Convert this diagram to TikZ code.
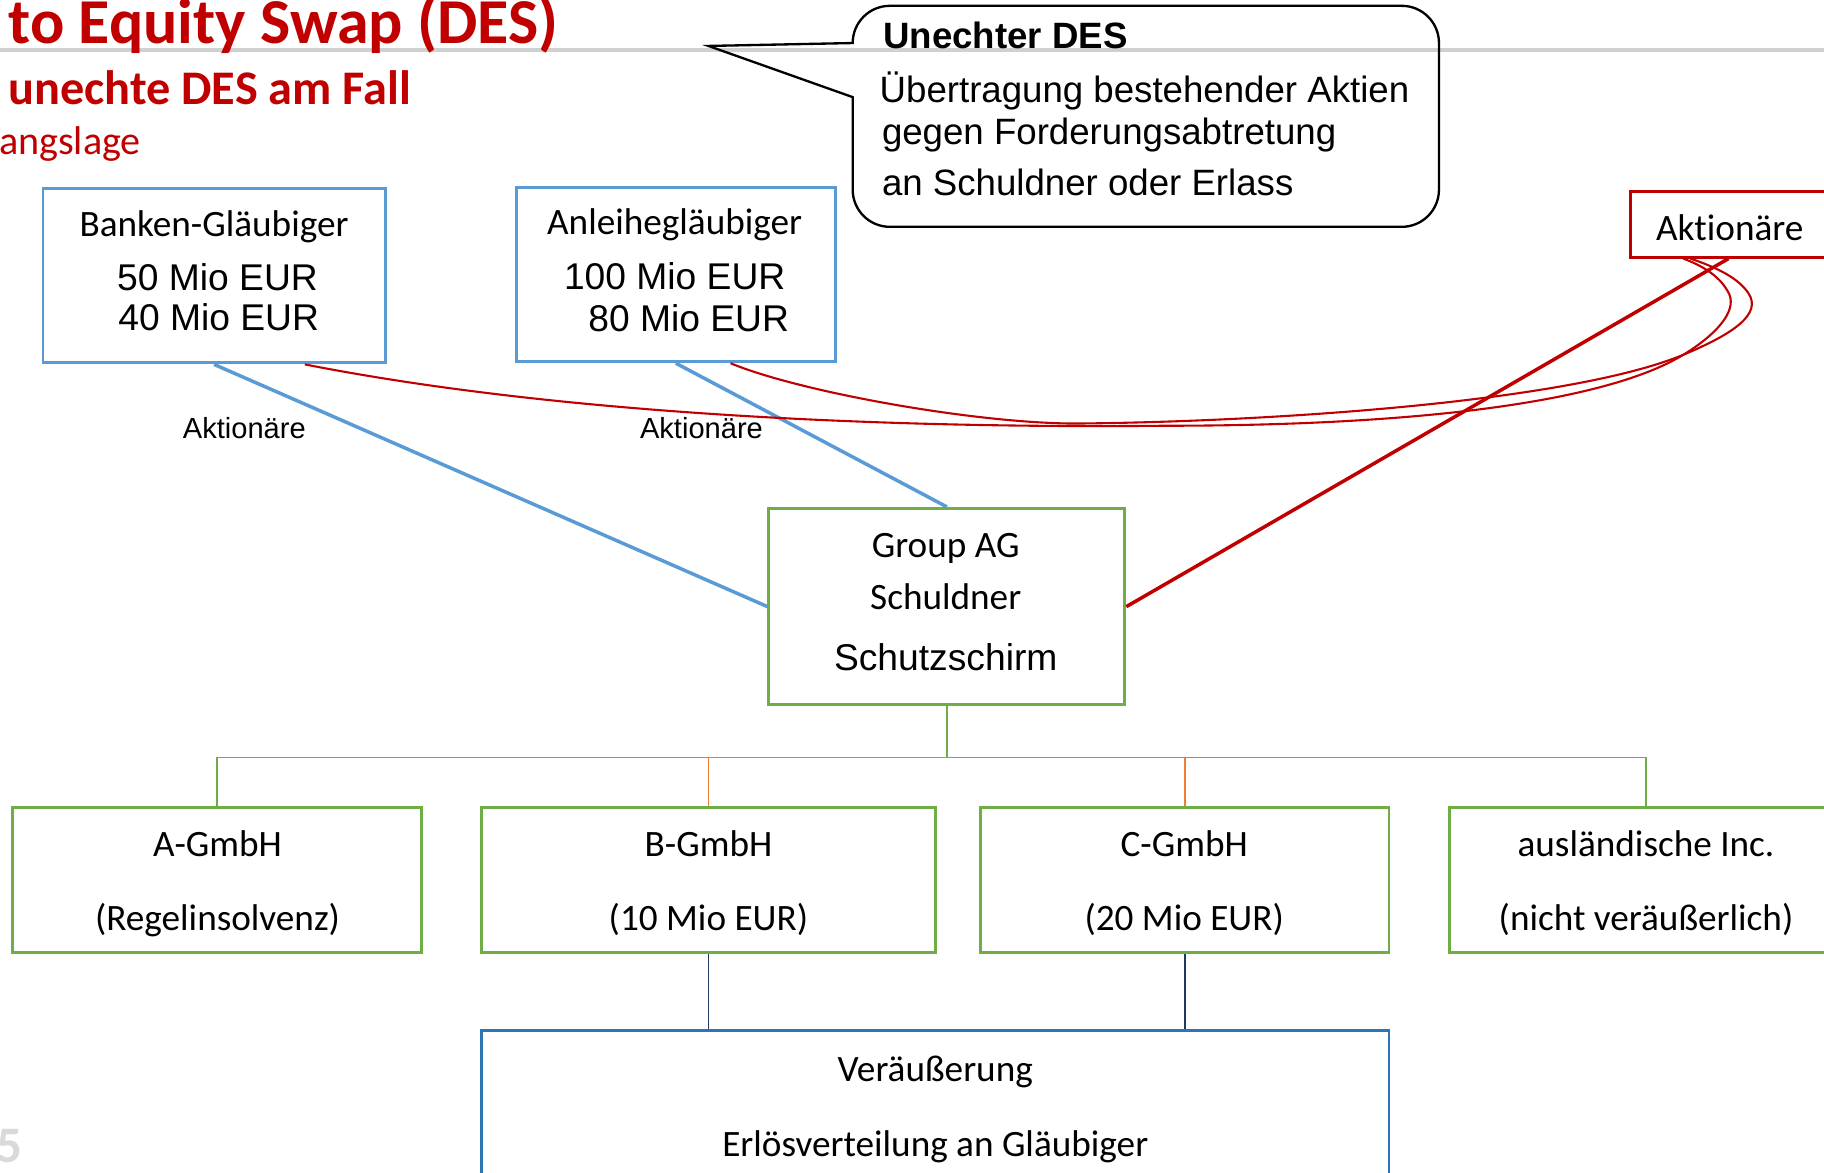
\documentclass[tikz,border=0pt]{standalone}
\usepackage{fontspec}
\setmainfont{Carlito}[Ligatures=NoCommon]
\newfontfamily\arialf{Liberation Sans}
\definecolor{dred}{HTML}{C00000}
\definecolor{mblue}{HTML}{5B9BD5}
\definecolor{dblue}{HTML}{2E75B6}
\definecolor{mgreen}{HTML}{70AD47}
\definecolor{morange}{HTML}{ED7D31}
\definecolor{navy}{HTML}{1F3864}
\definecolor{rulegray}{HTML}{D0D0D0}
\definecolor{pagegray}{HTML}{D9D9D9}
\begin{document}
\begin{tikzpicture}[x=1pt,y=-1pt,
  lbl/.style={inner sep=0pt, anchor=base},
  carl/.style={lbl, font=\fontsize{32}{38}\selectfont},
  ari/.style={lbl, font=\arialf\fontsize{32}{38}\selectfont},
  calltext/.style={lbl, anchor=base west, font=\arialf\fontsize{31.5}{38}\selectfont},
  frame/.style={draw, inner sep=0pt, line width=2.5pt},
  bluebox/.style={frame, draw=mblue},
  greenbox/.style={frame, draw=mgreen},
  redbox/.style={frame, draw=dred},
  verbox/.style={frame, draw=dblue},
  treeg/.style={draw=mgreen, line width=1.5pt},
  treeo/.style={draw=morange, line width=1.5pt},
  blueline/.style={draw=mblue, line width=3pt},
  redthick/.style={draw=dred, line width=3pt},
  redthin/.style={draw=dred, line width=1.8pt},
  navyline/.style={draw=navy, line width=1.4pt},
]
\useasboundingbox (0,0) rectangle (1568,1008);
\fill[white] (0,0) rectangle (1568,1008);

% header rule
\draw[rulegray, line width=3.5pt] (0,43) -- (1568,43);

% titles
\node[lbl, anchor=base west, text=dred, font=\bfseries\fontsize{55}{62}\selectfont] (title) at (7,37) {to Equity Swap (DES)};
\node[lbl, anchor=base west, text=dred, font=\bfseries\fontsize{41.5}{48}\selectfont] (subtitle) at (7,90) {unechte DES am Fall};
\node[lbl, anchor=base west, text=dred, font=\fontsize{34.5}{40}\selectfont] (sect) at (-1,133) {angslage};

% callout
\draw[black, line width=2pt] (733,83.5) -- (733,163) .. controls (733,180.7) and (747.3,195) .. (765,195) -- (1205,195) .. controls (1222.7,195) and (1237,180.7) .. (1237,163) -- (1237,37) .. controls (1237,19.3) and (1222.7,5) .. (1205,5) -- (765,5) .. controls (747.3,5) and (733,19.3) .. (733,37) -- (609,39.5) -- cycle;
\node[calltext, font=\arialf\bfseries\fontsize{31.5}{38}\selectfont] (ch) at (759,42) {Unechter DES};
\node[calltext] (c1) at (756,88) {Übertragung bestehender Aktien};
\node[calltext] (c2) at (758,124) {gegen Forderungsabtretung};
\node[calltext] (c3) at (758,168) {an Schuldner oder Erlass};

% boxes
\node[bluebox, minimum width=294pt, minimum height=150pt] (bank) at (184,237) {};
\node[bluebox, minimum width=274pt, minimum height=150pt] (anl) at (581,236) {};
\node[redbox, minimum width=180pt, minimum height=56pt] (akt) at (1492,193) {};
\node[greenbox, minimum width=306pt, minimum height=169pt] (grp) at (814,521.5) {};
\node[greenbox, minimum width=351pt, minimum height=125pt] (ag) at (186.5,756.5) {};
\node[greenbox, minimum width=390pt, minimum height=125pt] (bg) at (609,756.5) {};
\node[greenbox, minimum width=351pt, minimum height=125pt] (cg) at (1018.5,756.5) {};
\node[greenbox, minimum width=338pt, minimum height=125pt] (ausl) at (1415,756.5) {};
\node[verbox, minimum width=780pt, minimum height=240pt] (ver) at (804,1006) {};

% connectors
\draw[blueline] (bank.south) -- (grp.west);
\draw[blueline] (anl.south) -- (grp.north);
\draw[redthick] (grp.east) -- ([xshift=-6pt]akt.south);
\draw[redthin] ([xshift=78pt]bank.south) .. controls (500,360) and (800,368) .. (1000,366) .. controls (1250,366) and (1390,340) .. (1447,305) .. controls (1478,286) and (1495,265) .. (1485,250) .. controls (1477,236) and (1462,228) .. ([xshift=-45pt]akt.south);
\draw[redthin] ([xshift=47pt]anl.south) .. controls (690,338) and (850,366) .. (934,364) .. controls (1100,362) and (1350,345) .. (1447,305) .. controls (1490,287) and (1515,270) .. (1503,252) .. controls (1493,237) and (1470,228) .. ([xshift=-39pt]akt.south);

\draw[treeg] (grp.south) -- ++(0,44) -| (ag.north);
\draw[treeo] (grp.south) -- ++(0,44) -| (bg.north);
\draw[treeo] (grp.south) -- ++(0,44) -| (cg.north);
\draw[treeg] (grp.south) -- ++(0,44) -| (ausl.north);

\draw[navyline] (bg.south) -- (bg.south |- ver.north);
\draw[navyline] (cg.south) -- (cg.south |- ver.north);

% texts
\node[carl] (bankT) at (184,203) {Banken-Gläubiger};
\node[ari] (bank1) at (187,250) {50 Mio EUR};
\node[ari] (bank2) at (188,284) {40 Mio EUR};
\node[carl] (anlT) at (580,202) {Anleihegläubiger};
\node[ari] (anl1) at (580,249) {100 Mio EUR};
\node[ari] (anl2) at (592,285) {80 Mio EUR};
\node[carl] (aktT) at (1487,207) {Aktionäre};
\node[lbl, font=\arialf\fontsize{25}{30}\selectfont] (lab1) at (210,377) {Aktionäre};
\node[lbl, font=\arialf\fontsize{25}{30}\selectfont] (lab2) at (603,377) {Aktionäre};
\node[carl] (grpT) at (813,479) {Group AG};
\node[carl] (grp2) at (813,524) {Schuldner};
\node[ari] (grp3) at (813,576) {Schutzschirm};
\node[carl] (agT) at (187,736) {A-GmbH};
\node[carl] (ag2) at (187,800) {(Regelinsolvenz)};
\node[carl] (bgT) at (609,736) {B-GmbH};
\node[carl] (bg2) at (609,800) {(10 Mio EUR)};
\node[carl] (cgT) at (1018,736) {C-GmbH};
\node[carl] (cg2) at (1018,800) {(20 Mio EUR)};
\node[carl] (auslT) at (1415,736) {ausländische Inc.};
\node[carl] (ausl2) at (1415,800) {(nicht veräußerlich)};
\node[carl] (verT) at (804,930) {Veräußerung};
\node[carl] (ver2) at (804,994) {Erlösverteilung an Gläubiger};
\node[lbl, anchor=base west, text=pagegray, font=\bfseries\fontsize{44}{50}\selectfont] (pg) at (-3,999) {5};
\end{tikzpicture}
\end{document}
